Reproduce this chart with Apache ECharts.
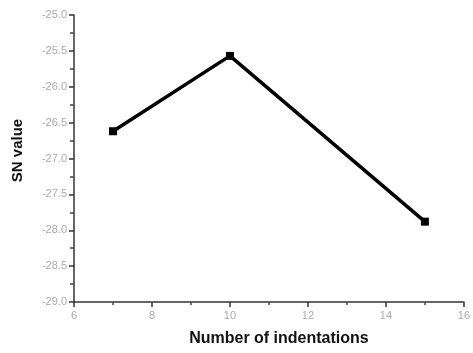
<!DOCTYPE html>
<html>
<head>
<meta charset="utf-8">
<script src="https://cdn.jsdelivr.net/npm/echarts@6/dist/echarts.min.js"></script>
<style>
html,body{margin:0;padding:0;background:#fff;}
#chart{width:473px;height:353px;}
</style>
</head>
<body>
<div id="chart"></div>
<script>
const indentations = [7, 10, 15];
const snValues = [-26.62, -25.57, -27.88];
const xName = 'Number of indentations';
const yName = 'SN value';

const chart = echarts.init(document.getElementById('chart'), null, {renderer: 'canvas'});
chart.setOption({
  animation: false,
  backgroundColor: '#fff',
  grid: {left: 74, right: 7, top: 15, bottom: 51, containLabel: false},
  xAxis: {
    type: 'value', min: 6, max: 16, interval: 2,
    name: xName, nameLocation: 'middle', nameGap: 29,
    nameTextStyle: {fontFamily: 'Liberation Sans', fontWeight: 'bold', fontSize: 16, color: '#111', padding: [0, 0, 0, 20]},
    axisLine: {show: true, lineStyle: {color: '#333', width: 1.5}},
    axisTick: {show: true, inside: false, length: 5, lineStyle: {color: '#333', width: 1.5}},
    minorTick: {show: true, splitNumber: 2, length: 3, lineStyle: {color: '#444', width: 1.5}},
    axisLabel: {fontFamily: 'Liberation Sans', fontSize: 11, color: '#aaa', margin: 8},
    splitLine: {show: false}
  },
  yAxis: {
    type: 'value', min: -29, max: -25, interval: 0.5,
    name: yName, nameLocation: 'middle', nameGap: 49, nameRotate: 90,
    nameTextStyle: {fontFamily: 'Liberation Sans', fontWeight: 'bold', fontSize: 15, color: '#111', padding: [0, 0, 0, 16]},
    axisLine: {show: true, lineStyle: {color: '#333', width: 1.5}},
    axisTick: {show: true, inside: false, length: 5, lineStyle: {color: '#333', width: 1.5}},
    minorTick: {show: true, splitNumber: 2, length: 4, lineStyle: {color: '#444', width: 1.5}},
    axisLabel: {fontFamily: 'Liberation Sans', fontSize: 11, color: '#aaa', margin: 7,
      formatter: v => v.toFixed(1)},
    splitLine: {show: false}
  },
  series: [{
    type: 'line',
    data: indentations.map((x, i) => [x, snValues[i]]),
    symbol: 'rect', symbolSize: 8,
    lineStyle: {color: '#000', width: 3.5},
    itemStyle: {color: '#000'}
  }]
});
</script>
</body>
</html>
